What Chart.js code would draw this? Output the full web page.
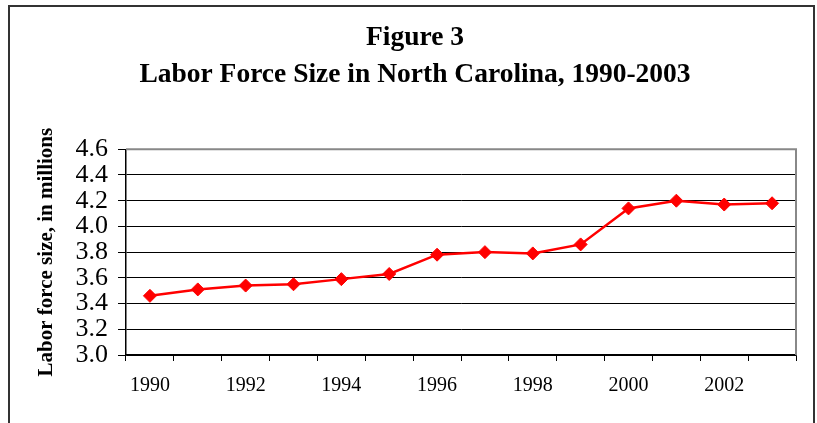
<!DOCTYPE html>
<html>
<head>
<meta charset="utf-8">
<script src="https://cdn.jsdelivr.net/npm/chart.js@4.4.0/dist/chart.umd.min.js"></script>
<style>
  html, body { margin: 0; padding: 0; background: #fff; }
  #wrap { width: 817px; height: 423px; position: relative; }
</style>
</head>
<body>
<div id="wrap"><canvas id="laborChart" width="817" height="423"></canvas></div>
<script>
const years = ["1990", "1991", "1992", "1993", "1994", "1995", "1996",
  "1997", "1998", "1999", "2000", "2001", "2002", "2003"];
const laborForce = [3.46, 3.51, 3.54, 3.55, 3.59, 3.63, 3.78,
  3.80, 3.79, 3.86, 4.14, 4.20, 4.17, 4.18];
const yTicks = [3.0, 3.2, 3.4, 3.6, 3.8, 4.0, 4.2, 4.4, 4.6];

const serif = "'Liberation Serif', 'Times New Roman', serif";

// outer frame + grey top/right edge of the plot
const framePlugin = {
  id: "frame",
  beforeDraw(chart) {
    const ctx = chart.ctx;
    ctx.save();
    ctx.fillStyle = "#fff";
    ctx.fillRect(0, 0, chart.width, chart.height);
    ctx.strokeStyle = "#333";
    ctx.lineWidth = 2;
    ctx.strokeRect(9, 6, 805, 440);
    ctx.restore();
  },
  afterDatasetsDraw(chart) {
    const a = chart.chartArea;
    const ctx = chart.ctx;
    ctx.save();
    ctx.strokeStyle = "#888";
    ctx.lineWidth = 2;
    ctx.beginPath();
    ctx.moveTo(a.left, a.top);
    ctx.lineTo(a.right, a.top);
    ctx.lineTo(a.right, a.bottom);
    ctx.stroke();
    ctx.restore();
  },
};

new Chart(document.getElementById("laborChart").getContext("2d"), {
  type: "line",
  data: {
    labels: years,
    datasets: [
      {
        label: "Labor force",
        data: laborForce,
        borderColor: "#ff0000",
        backgroundColor: "#ff0000",
        borderWidth: 2.5,
        pointStyle: "rectRot",
        pointRadius: 6.5,
        pointBorderWidth: 1,
        tension: 0,
      },
    ],
  },
  options: {
    responsive: false,
    animation: false,
    layout: { padding: { left: 34, right: 21, top: 19, bottom: 26 } },
    plugins: {
      legend: { display: false },
      tooltip: { enabled: false },
      title: {
        display: true,
        text: ["Figure 3", "Labor Force Size in North Carolina, 1990-2003"],
        color: "#000",
        font: { family: serif, size: 27.5, weight: "bold", lineHeight: 1.35 },
        padding: { top: 0, bottom: 56 },
      },
    },
    scales: {
      x: {
        offset: true,
        grid: {
          offset: true,
          drawOnChartArea: false,
          color: "#000",
          tickLength: 6,
        },
        border: { color: "#000", width: 1.5 },
        afterFit(scale) { scale.height = 42; },
        ticks: {
          autoSkip: false,
          maxRotation: 0,
          padding: 13,
          color: "#000",
          font: { family: serif, size: 20 },
          callback: (v, i) => (i % 2 === 0 ? years[i] : ""),
        },
      },
      y: {
        min: yTicks[0],
        max: yTicks[yTicks.length - 1],
        afterBuildTicks(scale) { scale.ticks = yTicks.map((v) => ({ value: v })); },
        afterFit(scale) { scale.width = 92; },
        grid: { color: "#000", lineWidth: 1, tickLength: 8 },
        border: { color: "#000", width: 1.5 },
        ticks: {
          autoSkip: false,
          padding: 10,
          color: "#000",
          font: { family: serif, size: 26, lineHeight: 1 },
          callback: (v) => Number(v).toFixed(1),
        },
        title: {
          display: true,
          text: "Labor force size, in millions",
          color: "#000",
          font: { family: serif, size: 21, weight: "bold" },
          padding: 0,
        },
      },
    },
  },
  plugins: [framePlugin],
});
</script>
</body>
</html>
